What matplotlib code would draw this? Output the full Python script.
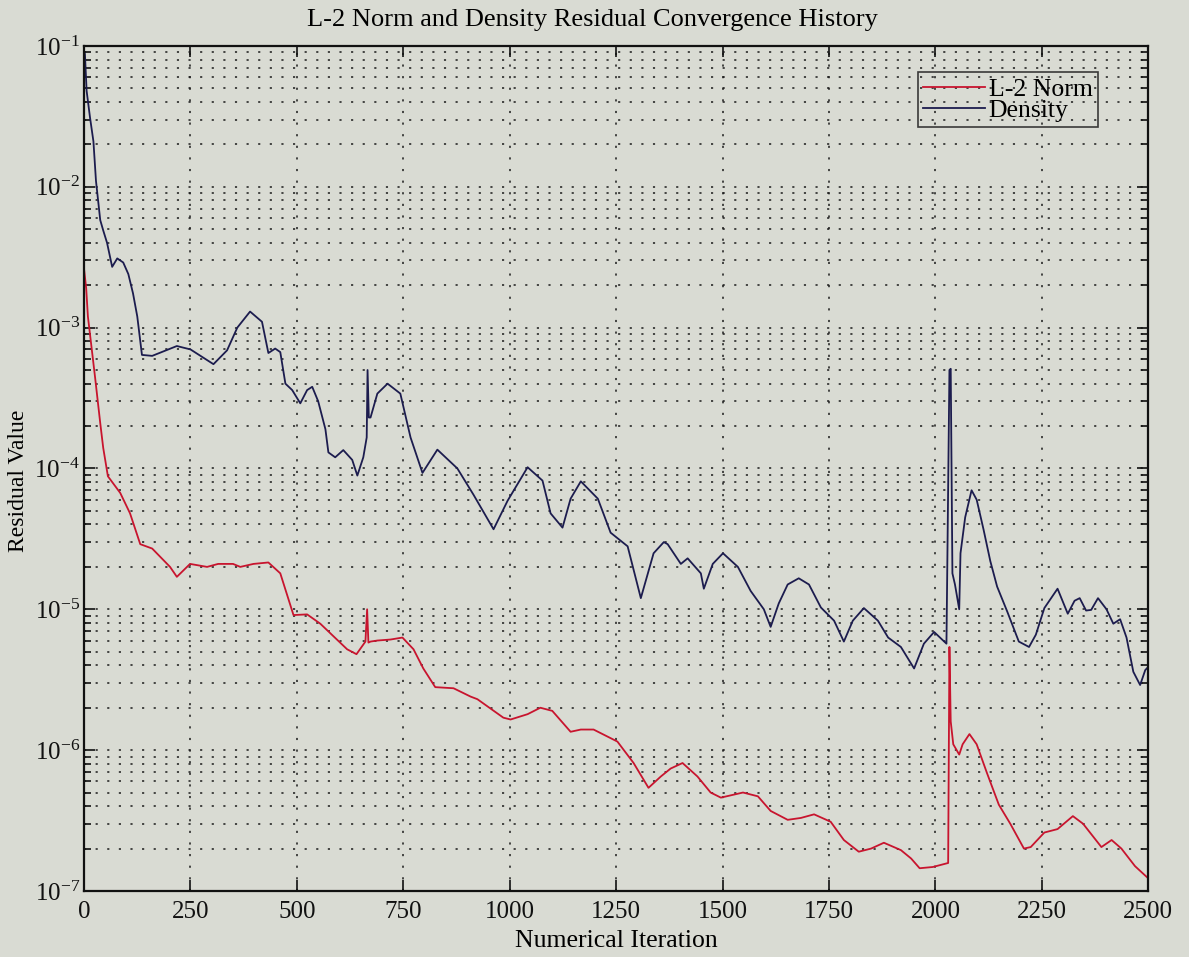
import matplotlib
matplotlib.use("Agg")
import matplotlib.pyplot as plt
from matplotlib.ticker import FixedLocator, LogLocator, NullFormatter, FuncFormatter
import numpy as np

# residual history, read at the turning points of each curve
density_iter = [0, 2, 6, 14, 22, 28, 38, 45, 54, 66, 78, 92, 104, 115, 125, 136,
                160, 218, 250, 304, 336, 360, 390, 418, 433, 449, 461, 473, 489,
                508, 524, 536, 550, 567, 574, 590, 609, 630, 642, 656, 664, 666,
                669, 673, 689, 713, 743, 767, 795, 830, 877, 915, 962, 995, 1042,
                1077, 1096, 1124, 1143, 1167, 1207, 1237, 1277, 1308, 1338, 1362,
                1371, 1402, 1418, 1449, 1456, 1477, 1501, 1536, 1566, 1597, 1613,
                1632, 1653, 1679, 1703, 1731, 1762, 1785, 1806, 1832, 1865, 1889,
                1919, 1950, 1973, 1997, 2026, 2033, 2036, 2040, 2046, 2056, 2059,
                2070, 2085, 2097, 2113, 2129, 2145, 2169, 2196, 2220, 2236, 2256,
                2287, 2311, 2327, 2339, 2354, 2366, 2382, 2402, 2418, 2434, 2449,
                2465, 2481, 2493, 2500]
density_res = [9.0e-2, 8.8e-2, 4.8e-2, 3.1e-2, 2.1e-2, 1.1e-2, 5.8e-3, 4.9e-3,
               4.0e-3, 2.7e-3, 3.1e-3, 2.9e-3, 2.4e-3, 1.75e-3, 1.2e-3, 6.4e-4,
               6.3e-4, 7.4e-4, 7.0e-4, 5.5e-4, 6.9e-4, 1.0e-3, 1.3e-3, 1.1e-3,
               6.6e-4, 7.1e-4, 6.7e-4, 4.0e-4, 3.6e-4, 2.9e-4, 3.6e-4, 3.8e-4,
               3.0e-4, 1.9e-4, 1.3e-4, 1.2e-4, 1.35e-4, 1.15e-4, 8.9e-5, 1.2e-4,
               1.66e-4, 5.0e-4, 2.3e-4, 2.3e-4, 3.4e-4, 4.0e-4, 3.4e-4, 1.66e-4,
               9.3e-5, 1.36e-4, 1.0e-4, 6.5e-5, 3.7e-5, 5.9e-5, 1.02e-4, 8.2e-5,
               4.8e-5, 3.8e-5, 6.1e-5, 8.1e-5, 6.1e-5, 3.5e-5, 2.8e-5, 1.2e-5,
               2.5e-5, 3.0e-5, 2.9e-5, 2.1e-5, 2.3e-5, 1.8e-5, 1.4e-5, 2.1e-5,
               2.5e-5, 2.0e-5, 1.35e-5, 1.0e-5, 7.5e-6, 1.1e-5, 1.5e-5, 1.66e-5,
               1.5e-5, 1.03e-5, 8.3e-6, 5.9e-6, 8.3e-6, 1.02e-5, 8.3e-6, 6.3e-6,
               5.4e-6, 3.8e-6, 5.7e-6, 6.9e-6, 5.7e-6, 5.0e-4, 5.1e-4, 1.8e-5,
               1.5e-5, 1.0e-5, 2.5e-5, 4.5e-5, 7.0e-5, 6.0e-5, 3.7e-5, 2.2e-5,
               1.45e-5, 9.6e-6, 5.9e-6, 5.4e-6, 6.6e-6, 1.02e-5, 1.4e-5, 9.3e-6,
               1.15e-5, 1.2e-5, 9.8e-6, 9.9e-6, 1.2e-5, 1.0e-5, 7.9e-6, 8.5e-6,
               6.3e-6, 3.6e-6, 2.9e-6, 3.7e-6, 3.9e-6]

l2_iter = [0, 5, 9, 26, 38, 45, 56, 85, 108, 132, 160, 202, 218, 249, 289, 315,
           350, 367, 398, 433, 461, 492, 524, 555, 618, 640, 661, 665, 668, 673,
           689, 720, 748, 774, 797, 825, 868, 908, 924, 985, 1002, 1042, 1072,
           1100, 1143, 1167, 1197, 1253, 1291, 1326, 1355, 1378, 1406, 1441,
           1472, 1496, 1548, 1583, 1613, 1653, 1684, 1715, 1754, 1785, 1820,
           1849, 1879, 1919, 1943, 1963, 1994, 2030, 2033, 2036, 2042, 2056,
           2064, 2080, 2097, 2121, 2149, 2176, 2208, 2224, 2256, 2287, 2323,
           2347, 2390, 2414, 2437, 2469, 2500]
l2_res = [2.6e-3, 1.9e-3, 1.2e-3, 4.4e-4, 2.1e-4, 1.4e-4, 8.8e-5, 6.7e-5, 4.8e-5,
          2.9e-5, 2.7e-5, 2.0e-5, 1.7e-5, 2.1e-5, 2.0e-5, 2.1e-5, 2.1e-5, 2.0e-5,
          2.1e-5, 2.15e-5, 1.8e-5, 9.1e-6, 9.2e-6, 7.9e-6, 5.2e-6, 4.8e-6, 5.9e-6,
          1.0e-5, 5.8e-6, 5.9e-6, 6.0e-6, 6.1e-6, 6.3e-6, 5.2e-6, 3.8e-6, 2.8e-6,
          2.75e-6, 2.4e-6, 2.3e-6, 1.7e-6, 1.65e-6, 1.8e-6, 2.0e-6, 1.9e-6,
          1.35e-6, 1.4e-6, 1.4e-6, 1.15e-6, 8.1e-7, 5.4e-7, 6.5e-7, 7.4e-7, 8.1e-7,
          6.5e-7, 5.0e-7, 4.6e-7, 5.0e-7, 4.7e-7, 3.7e-7, 3.2e-7, 3.3e-7, 3.5e-7,
          3.1e-7, 2.3e-7, 1.9e-7, 2.0e-7, 2.2e-7, 1.95e-7, 1.7e-7, 1.45e-7,
          1.48e-7, 1.58e-7, 5.4e-6, 1.6e-6, 1.1e-6, 9.3e-7, 1.1e-6, 1.3e-6, 1.1e-6,
          6.9e-7, 4.1e-7, 3.0e-7, 2.0e-7, 2.05e-7, 2.6e-7, 2.75e-7, 3.4e-7, 3.0e-7,
          2.05e-7, 2.3e-7, 2.0e-7, 1.5e-7, 1.23e-7]

x_ticks = [0, 250, 500, 750, 1000, 1250, 1500, 1750, 2000, 2250, 2500]

plt.rcParams["font.family"] = ["Liberation Serif", "DejaVu Serif"]
plt.rcParams["mathtext.fontset"] = "custom"
plt.rcParams["mathtext.rm"] = "Liberation Serif"

bg = "#d9dbd3"
fig = plt.figure(figsize=(11.89, 9.57), dpi=100, facecolor=bg)
ax = fig.add_axes([0.0707, 0.069, 0.895, 0.883], facecolor=bg)

ax.plot(l2_iter, l2_res, color="#c8142e", linewidth=1.3, label="L-2 Norm")
ax.plot(density_iter, density_res, color="#1c1c4e", linewidth=1.3, label="Density")

ax.set_yscale("log")
ax.set_xlim(0, 2500)
ax.set_ylim(1e-7, 1e-1)
ax.xaxis.set_major_locator(FixedLocator(x_ticks))
ax.yaxis.set_major_locator(LogLocator(base=10, numticks=10))
ax.yaxis.set_minor_locator(LogLocator(base=10, subs=np.arange(2, 10), numticks=20))
ax.yaxis.set_minor_formatter(NullFormatter())
ax.yaxis.set_major_formatter(FuncFormatter(
    lambda v, _: r"$\mathregular{10^{%d}}$" % round(np.log10(v))))
ax.xaxis.get_offset_text().set_visible(False)
ax.yaxis.get_offset_text().set_visible(False)

dots = (0, (1.4, 6.2))
ax.grid(True, which="major", axis="both", color="#1a1a1a", linestyle=dots, linewidth=1.1)
ax.grid(True, which="minor", axis="y", color="#1a1a1a", linestyle=dots, linewidth=1.1)
ax.set_axisbelow(True)

ax.tick_params(which="both", direction="in", top=True, right=True, labelsize=18,
               colors="#111111", width=1.2)
ax.tick_params(which="major", length=8)
ax.tick_params(which="minor", length=5)
ax.tick_params(axis="x", pad=7)
ax.tick_params(axis="y", pad=3)
for s in ax.spines.values():
    s.set_linewidth(1.6)
    s.set_color("#111111")

ax.set_title("L-2 Norm and Density Residual Convergence History", fontsize=19,
             pad=14, x=0.478)
ax.set_xlabel("Numerical Iteration", fontsize=18.5, labelpad=5)
ax.set_ylabel("Residual Value", fontsize=17)
ax.yaxis.set_label_coords(-0.052, 0.485)

leg = ax.legend(loc="upper right", bbox_to_anchor=(0.953, 0.969), fontsize=18.5,
                frameon=True, fancybox=False, edgecolor="#111111",
                handlelength=2.4, handletextpad=0.15, labelspacing=-0.08,
                borderpad=0.22, borderaxespad=0)
leg.get_frame().set_facecolor("none")
leg.get_frame().set_linewidth(1.2)

fig.savefig("out.png", dpi=100, facecolor=bg)
